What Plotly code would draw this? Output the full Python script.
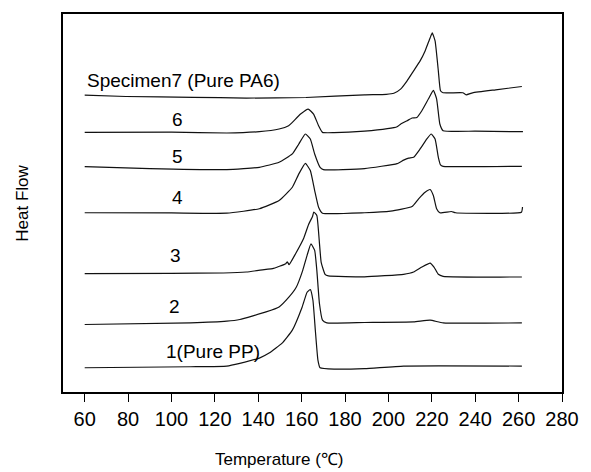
import plotly.graph_objects as go

# Temperature (°C) and stacked heat-flow values (arbitrary units)
t7 = [60, 79, 110, 134.5, 162, 189, 199, 202.5, 205.6, 208.6, 211.6, 214.6, 216.9, 219.2, 220.2, 221.5, 223, 224, 225.2, 234.3, 235.8, 238.8, 249.4, 261.5]
h7 = [297.7, 296.3, 295.5, 294.7, 295.3, 298, 298.5, 299.5, 303.7, 312, 322, 332, 342, 355, 360, 352, 322, 302, 300, 300, 298, 300, 303, 306.3]

t6 = [60, 100, 125.5, 140.5, 149.6, 154, 155.7, 159.5, 163, 165.5, 167.8, 169.6, 175, 189, 199.5, 204, 205.6, 208.6, 210.9, 213.1, 215.4, 218.4, 220.7, 222.2, 223.7, 225.2, 240, 262]
h6 = [260.3, 260.5, 259.7, 261, 263.7, 267, 270.3, 278.7, 283.7, 278.7, 267, 260.3, 260, 261.5, 264, 266, 268.5, 272, 274.7, 275.3, 282, 293.7, 302.5, 294, 268.7, 262, 261.5, 261]

t5 = [60, 90, 125.5, 140.5, 149.6, 155.7, 158.7, 161.7, 164, 166, 168.5, 170, 189, 204, 207, 209.3, 211.6, 214.6, 217.7, 219.7, 221.5, 223, 224, 225.2, 261.5]
h5 = [226, 224, 223, 225.3, 230.3, 238.7, 248.7, 258.7, 253.7, 238.7, 225.3, 223, 224, 229, 232.5, 234.5, 235.3, 243.7, 253.7, 258.7, 253.7, 235.3, 227.7, 226.3, 226.3]

t4 = [60, 100, 125.5, 140.5, 149.6, 155.7, 158.7, 161.7, 164, 166, 167.8, 169.6, 189, 201, 210.9, 213.9, 216.9, 219.2, 220.7, 222.2, 223.7, 229, 231, 261.3, 261.8]
h4 = [179.7, 179.5, 179.3, 183.7, 192, 205.3, 218.7, 229.3, 222, 202, 185.3, 179.3, 179.7, 181.3, 186, 193.7, 200.3, 203, 197, 183.7, 179.7, 181, 179.7, 180.3, 185.5]

t3 = [60, 100, 124, 134.5, 143.6, 146.6, 152.7, 153.4, 154.2, 157.2, 161, 163.2, 165, 165.6, 167, 168.1, 169, 170.8, 172.3, 189, 207, 211.6, 215.4, 219.2, 221, 223, 225.2, 261.5]
h3 = [118.7, 119, 119.3, 120.3, 123, 123.7, 128.7, 130.5, 127.7, 138.7, 154.5, 168, 176, 180.5, 177, 152, 130, 118, 116.5, 115.5, 118, 120.3, 125.3, 129.3, 125.3, 118, 116, 115.3]

t2 = [60, 108.8, 125.5, 131.5, 143.6, 149.6, 154.2, 157.5, 160.5, 162.5, 164.3, 166, 167, 168.2, 169.6, 171.6, 189, 211.6, 219.2, 225.2, 261.5]
h2 = [67.7, 69.3, 71, 72.7, 80.3, 85.3, 95.3, 105, 122, 137, 148.5, 142, 122, 88.7, 72, 69.3, 69.7, 70.3, 72, 69.3, 69.3]

t1 = [60, 108.8, 125.5, 131.5, 140.5, 145, 151, 155.7, 160.2, 162.5, 164, 165.2, 166.3, 167.5, 168.5, 175, 189, 207, 261.5]
h1 = [24.3, 25.3, 26, 28.7, 34, 39, 49, 62, 85, 100, 102.7, 92, 62, 32, 24.3, 23, 23.5, 26, 26]

series = [(t1, h1), (t2, h2), (t3, h3), (t4, h4), (t5, h5), (t6, h6), (t7, h7)]

labels = ["1(Pure PP)", "2", "3", "4", "5", "6", "Specimen7 (Pure PA6)"]
label_t = [119, 101.6, 101.8, 102.8, 102.6, 102.6, 105.5]
label_h = [40.3, 85.3, 137, 195, 236, 273, 312]

x_ticks = list(range(60, 281, 20))

FONT = "Liberation Sans, Arial, sans-serif"

fig = go.Figure()
for t, h in series:
    fig.add_trace(go.Scatter(x=t, y=h, mode="lines",
                             line=dict(color="#111111", width=1.2, shape="spline", smoothing=0.4),
                             showlegend=False, hoverinfo="skip"))

for txt, tx, hy in zip(labels, label_t, label_h):
    fig.add_annotation(x=tx, y=hy, text=txt, showarrow=False,
                       font=dict(family=FONT, size=19, color="black"),
                       xanchor="center", yanchor="middle")

fig.add_annotation(xref="paper", yref="paper", x=0.4334, y=-0.179, text="Temperature (℃)",
                   showarrow=False, font=dict(family=FONT, size=17, color="black"),
                   xanchor="center", yanchor="middle")
fig.add_annotation(xref="paper", yref="paper", x=-0.0815, y=0.499, text="Heat Flow",
                   textangle=-90, showarrow=False, font=dict(family=FONT, size=17, color="black"),
                   xanchor="center", yanchor="middle")

fig.update_layout(
    width=591, height=472, autosize=False,
    margin=dict(l=63, r=17, t=13, b=80),
    plot_bgcolor="white", paper_bgcolor="white",
    font=dict(family=FONT, color="black"),
    xaxis=dict(range=[50, 280], tickvals=x_ticks, ticktext=[str(v) for v in x_ticks],
               ticks="outside", ticklen=8, tickwidth=1, tickcolor="black",
               showline=True, linecolor="black", linewidth=1.5, mirror=True,
               showgrid=False, zeroline=False,
               tickfont=dict(family=FONT, size=20, color="black")),
    yaxis=dict(range=[0, 379], showticklabels=False, ticks="",
               showline=True, linecolor="black", linewidth=1.5, mirror=True,
               showgrid=False, zeroline=False),
)

page_fix = ("document.documentElement.style.overflow='hidden';"
            "document.body.style.overflow='hidden';"
            "document.body.style.margin='0';")

fig.write_html("out.html", post_script=page_fix,
               config={"displayModeBar": False, "responsive": False})
